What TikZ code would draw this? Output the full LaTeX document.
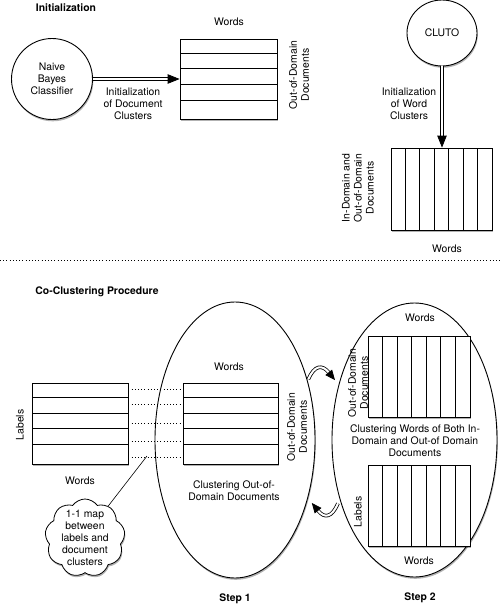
\documentclass[tikz,border=0pt]{standalone}
\usepackage{fontspec}
\setmainfont{TeX Gyre Heros}
\usetikzlibrary{shapes.geometric,shapes.symbols,arrows.meta,shadows,calc}
\begin{document}
\begin{tikzpicture}[x=1pt,y=-1pt,
  txt/.style={font=\fontsize{10.4}{12}\selectfont, align=center, inner sep=0pt},
  bold/.style={font=\bfseries\fontsize{10.4}{12}\selectfont, inner sep=0pt},
  shad/.style={drop shadow={shadow xshift=0.8pt, shadow yshift=-1.8pt, opacity=0.3, fill=black}},
  gridbox/.style={draw, fill=white, line width=0.8pt, inner sep=0pt, shad},
  oval/.style={ellipse, draw, fill=white, line width=0.9pt, inner sep=0pt, shad},
  dbl/.style={line width=0.8pt, double=white, double distance=2pt, -{Triangle[length=12pt,width=9.5pt]}},
  dbls/.style={line width=0.8pt, double=white, double distance=2pt, -{Triangle[length=10pt,width=8.5pt]}},
  dotline/.style={line width=0.8pt, dash pattern=on 1pt off 2.2pt},
  gl/.style={line width=0.8pt}
]
\useasboundingbox (0,0) rectangle (501,611);

% ---------- Initialization ----------
\node[bold] (h1) at (66,8) {Initialization};
\node[oval, minimum width=81pt, minimum height=81pt, txt] (nb) at (52,79) {Naive\\Bayes\\Classifier};

\node[gridbox, minimum width=97pt, minimum height=80pt] (b1) at (228.5,79) {};
\foreach \y in {53,68,84,100} \draw[gl] (180,\y) -- (277,\y);
\node[txt] (w1) at (229,22) {Words};
\node[txt, rotate=90] (od1) at (299,75) {Out-of-Domain\\Documents};

\draw[dbl] (nb.east) -- (nb.east -| b1.west);
\node[txt] (l1) at (133,104) {Initialization\\of Document\\Clusters};

\node[oval, minimum width=70pt, minimum height=66pt, txt] (cluto) at (442,33) {CLUTO};
\node[gridbox, minimum width=101pt, minimum height=82pt] (b2) at (441.5,189) {};
\foreach \i in {1,...,6} \draw[gl] ({391+\i*101/7},148) -- ({391+\i*101/7},230);
\draw[dbl] (cluto.south) -- (cluto.south |- b2.north);
\node[txt] (l2) at (409,104) {Initialization\\of Word\\Clusters};
\node[txt, rotate=90] (id) at (358,188) {In-Domain and\\Out-of-Domain\\Documents};
\node[txt] (w2) at (447,249) {Words};

% ---------- separator ----------
\coordinate (sepL) at (0,260);
\coordinate (sepR) at (501,260);
\draw[dotline] (sepL) -- (sepR);

% ---------- Co-Clustering ----------
\node[bold] (h2) at (97,292) {Co-Clustering Procedure};

\node[oval, minimum width=160pt, minimum height=276pt] (s1) at (235,440) {};
\node[oval, minimum width=165pt, minimum height=274pt] (s2) at (414.5,440) {};

\node[gridbox, minimum width=96pt, minimum height=81pt] (b3) at (80,423.5) {};
\node[gridbox, minimum width=95pt, minimum height=81pt] (b4) at (230.5,423.5) {};
\foreach \y in {397,413,428,444} {
  \draw[gl] (32,\y) -- (128,\y);
  \draw[gl] (183,\y) -- (278,\y);
}
\foreach \y in {389,404,423,441,457}
  \draw[dotline] (b3.east |- 0,\y) -- (b4.west |- 0,\y);

\node[txt, rotate=90] (lab1) at (20,425) {Labels};
\node[txt] (w3) at (80,481) {Words};
\node[txt] (w4) at (229,367) {Words};
\node[txt, rotate=90] (od2) at (297,427) {Out-of-Domain\\Documents};
\node[txt] (c1) at (234,491) {Clustering Out-of-\\Domain Documents};
\node[bold] (st1) at (235,599) {Step 1};

\node[cloud, draw, fill=white, line width=0.8pt, cloud puffs=9, cloud puff arc=110, minimum width=80pt, minimum height=78pt, inner sep=0pt, shad] (cl) at (85,538) {};
\node[txt] (cltxt) at (85,538) {1-1 map\\between\\labels and\\document\\clusters};
\coordinate (mapend) at (147,456);
\draw[line width=0.6pt] (cl.54) -- (mapend);

\node[gridbox, minimum width=102pt, minimum height=81pt] (b5) at (419,376.5) {};
\node[gridbox, minimum width=102pt, minimum height=81pt] (b6) at (419,505.5) {};
\foreach \i in {1,...,6} {
  \draw[gl] ({368+\i*102/7},336) -- ({368+\i*102/7},417);
  \draw[gl] ({368+\i*102/7},465) -- ({368+\i*102/7},546);
}
\node[txt] (w5) at (420,318) {Words};
\node[txt, rotate=90] (od3) at (358,383) {Out-of-Domain\\Documents};
\node[txt] (c2) at (415,441) {Clustering Words of Both In-\\Domain and Out-of Domain\\Documents};
\node[txt, rotate=90] (lab2) at (358,512) {Labels};
\node[txt] (w6) at (419,561) {Words};
\node[bold] (st2) at (420,598) {Step 2};

% wavy arrows between steps
\draw[dbls] ([shift={(1pt,0pt)}]s1.40) .. controls +(6,-14) and +(-13,-16) .. ([shift={(-4pt,3pt)}]s2.143);
\draw[dbls] ([shift={(-2pt,-3pt)}]s2.219) .. controls +(-6,14) and +(13,16) .. ([shift={(4pt,-4pt)}]s1.321);
\end{tikzpicture}
\end{document}
